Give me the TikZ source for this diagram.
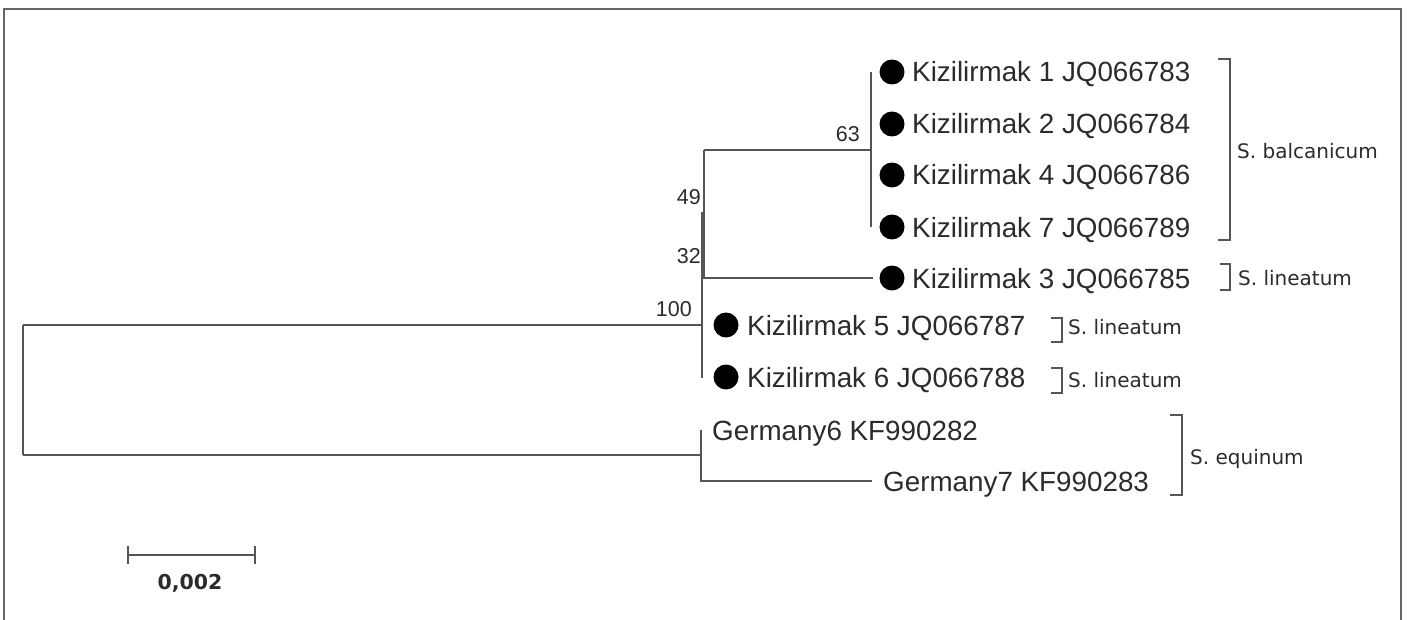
\documentclass[tikz,border=0pt]{standalone}
\usepackage{fontspec}
\setmainfont{Liberation Sans}
\newfontfamily\spfont{DejaVu Sans}
\definecolor{linegray}{HTML}{555555}
\definecolor{txtgray}{HTML}{2B2B2B}
\definecolor{framegray}{HTML}{666666}
\begin{document}
\begin{tikzpicture}[x=1pt,y=-1pt,
  branch/.style={draw=linegray, line width=2pt},
  brk/.style={draw=linegray, line width=1.8pt},
  leaf/.style={anchor=base west, inner sep=0pt, text=txtgray, font=\fontsize{27.8}{30}\selectfont},
  dotmark/.style={circle, fill=black, minimum size=25pt, inner sep=0pt},
  boot/.style={anchor=base east, inner sep=0pt, text=txtgray, font=\fontsize{21.5}{24}\selectfont},
  sp/.style={anchor=base west, inner sep=0pt, text=txtgray, font=\spfont\fontsize{20}{22}\selectfont},
  scalelbl/.style={anchor=base, inner sep=0pt, text=txtgray, font=\spfont\bfseries\fontsize{20.5}{22}\selectfont}]
\useasboundingbox (0,0) rectangle (1407,620);
% frame
\draw[framegray, line width=2pt] (4,620) -- (4,9) -- (1401,9) -- (1401,620);

% internal nodes
\coordinate (rootA) at (23,325);
\coordinate (rootB) at (23,455);
\coordinate (n100) at (702,325);
\coordinate (n100t) at (702,212);
\coordinate (n100b) at (702,378);
\coordinate (nG) at (701,455);
\coordinate (nGt) at (701,430);
\coordinate (nGb) at (701,481);
\coordinate (tipG7) at (872,481);
\coordinate (n49t) at (704,150);
\coordinate (n49b) at (704,278);
\coordinate (n63) at (871,150);
\coordinate (n63t) at (871,72);
\coordinate (n63b) at (871,227);
\coordinate (tipK3) at (873,278);

% dots
\node[dotmark] (d1) at (892,72) {};
\node[dotmark] (d2) at (892,124) {};
\node[dotmark] (d4) at (892,175) {};
\node[dotmark] (d7) at (892,227) {};
\node[dotmark] (d3) at (892,278) {};
\node[dotmark] (d5) at (726,325) {};
\node[dotmark] (d6) at (726,377) {};

% leaf labels
\node[leaf] (k1) at (912,82) {Kizilirmak 1 JQ066783};
\node[leaf] (k2) at (912,134) {Kizilirmak 2 JQ066784};
\node[leaf] (k4) at (912,185) {Kizilirmak 4 JQ066786};
\node[leaf] (k7) at (912,237) {Kizilirmak 7 JQ066789};
\node[leaf] (k3) at (912,288) {Kizilirmak 3 JQ066785};
\node[leaf] (k5) at (747,335) {Kizilirmak 5 JQ066787};
\node[leaf] (k6) at (747,387) {Kizilirmak 6 JQ066788};
\node[leaf] (g6) at (712,440) {Germany6 KF990282};
\node[leaf] (g7) at (883,491) {Germany7 KF990283};

% tree
\draw[branch] (rootA) -- (rootB);
\draw[branch] (rootA) -- (n100);
\draw[branch] (rootB) -- (nG);
\draw[branch] (nGt) -- (nGb) -- (tipG7);
\draw[branch] (n100t) -- (n100b);
\draw[branch] (n49t) -- (n49b) -- (tipK3);
\draw[branch] (n49t) -- (n63);
\draw[branch] (n63t) -- (n63b);

% bootstrap values
\node[boot] (b63) at (860,142) {63};
\node[boot] (b49) at (701,205) {49};
\node[boot] (b32) at (701,263) {32};
\node[boot] (b100) at (692,316) {100};

% brackets
\draw[brk] (1218,59) -- (1230,59) -- (1230,240) -- (1218,240);
\draw[brk] (1220,264) -- (1230,264) -- (1230,290) -- (1220,290);
\draw[brk] (1051,318) -- (1062,318) -- (1062,342) -- (1051,342);
\draw[brk] (1051,368) -- (1062,368) -- (1062,393) -- (1051,393);
\draw[brk] (1170,415) -- (1182,415) -- (1182,495) -- (1170,495);

% species labels
\node[sp] (sbal) at (1237,159) {S. balcanicum};
\node[sp] (sl3) at (1238,285) {S. lineatum};
\node[sp] (sl5) at (1068,334) {S. lineatum};
\node[sp] (sl6) at (1068,387) {S. lineatum};
\node[sp] (seq) at (1190,464) {S. equinum};

% scale bar
\coordinate (sbL) at (128,555);
\coordinate (sbR) at (255,555);
\draw[branch] (sbL) -- (sbR);
\draw[branch] ([yshift=-9pt]sbL) -- ([yshift=9pt]sbL);
\draw[branch] ([yshift=-9pt]sbR) -- ([yshift=9pt]sbR);
\node[scalelbl] (sblabel) at (190,589) {0,002};
\end{tikzpicture}
\end{document}
